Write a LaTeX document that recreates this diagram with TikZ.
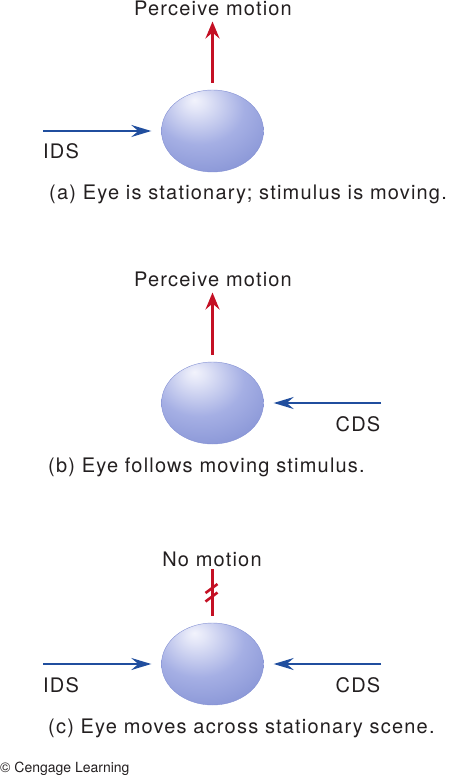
\documentclass[tikz,border=0pt]{standalone}
\usepackage{fontspec}
\setmainfont{TeX Gyre Heros}[LetterSpace=6]
\newfontfamily\creditfont{TeX Gyre Heros}
\usetikzlibrary{arrows.meta,shapes.geometric}
\definecolor{arrblue}{RGB}{32,78,158}
\definecolor{arrred}{RGB}{196,16,36}
\definecolor{ballhi}{RGB}{242,243,252}
\definecolor{ballmid}{RGB}{165,175,228}
\definecolor{balledge}{RGB}{116,131,204}
\definecolor{txt}{RGB}{35,31,32}
\pgfdeclareradialshading{eyeshade}{\pgfpoint{-9bp}{19bp}}{%
  color(0bp)=(ballhi);
  color(5bp)=(ballhi!80!ballmid);
  color(22bp)=(ballmid);
  color(46bp)=(balledge!85!ballmid);
  color(62bp)=(balledge);
  color(80bp)=(balledge)}
\begin{document}
\begin{tikzpicture}[x=1pt,y=-1pt,
  eye/.style={ellipse, minimum width=102pt, minimum height=82pt, inner sep=0pt, shading=eyeshade,
    draw=balledge!70!ballmid, line width=0.4pt},
  lbl/.style={font=\fontsize{20}{23}\selectfont, text=txt, inner sep=0pt},
  credit/.style={font=\creditfont\fontsize{14}{16}\selectfont, text=txt, inner sep=0pt},
  bluearrow/.style={draw=arrblue, line width=2.2pt, -{Stealth[length=20pt,width=12pt,inset=7pt]}},
  redarrow/.style={draw=arrred, line width=3pt, -{Stealth[length=17pt,width=14pt,inset=6pt]}},
  redline/.style={draw=arrred, line width=3pt},
  slash/.style={draw=arrred, line width=2.6pt}]
\useasboundingbox (0,0) rectangle (453,775);

% ---------- (a) ----------
\node[eye] (eyeA) at (212.5,131) {};
\node[lbl, anchor=base] (percA) at (213,16) {Perceive motion};
\coordinate (idsAstart) at (43,131);
\node[lbl, anchor=base west] (idsA) at (43,159) {IDS};
\draw[redarrow, shorten <=7pt, shorten >=5pt] (eyeA.north) -- (percA.south -| eyeA.north);
\draw[bluearrow, shorten >=10pt] (idsAstart) -- (eyeA.west);
\node[lbl, anchor=base west] (capA) at (49,200) {(a) Eye is stationary; stimulus is moving.};

% ---------- (b) ----------
\node[eye] (eyeB) at (212.5,403) {};
\node[lbl, anchor=base] (percB) at (213,287) {Perceive motion};
\coordinate (cdsBstart) at (381,403);
\node[lbl, anchor=base] (cdsB) at (358,431) {CDS};
\draw[redarrow, shorten <=7pt, shorten >=5pt] (eyeB.north) -- (percB.south -| eyeB.north);
\draw[bluearrow, shorten >=10pt] (cdsBstart) -- (eyeB.east);
\node[lbl, anchor=base west] (capB) at (48,472) {(b) Eye follows moving stimulus.};

% ---------- (c) ----------
\node[eye] (eyeC) at (212.5,664) {};
\node[lbl, anchor=base] (noC) at (212,566) {No motion};
\coordinate (idsCstart) at (43,664);
\coordinate (cdsCstart) at (381,664);
\node[lbl, anchor=base west] (idsC) at (43,692) {IDS};
\node[lbl, anchor=base] (cdsC) at (358,692) {CDS};
\draw[redline, shorten <=7pt, shorten >=2pt] (eyeC.north) -- (noC.south -| eyeC.north);
\draw[slash] (205.5,593) -- (217.5,584);
\draw[slash] (205.5,601.5) -- (217.5,592.5);
\draw[bluearrow, shorten >=10pt] (idsCstart) -- (eyeC.west);
\draw[bluearrow, shorten >=10pt] (cdsCstart) -- (eyeC.east);
\node[lbl, anchor=base west] (capC) at (48,733) {(c) Eye moves across stationary scene.};

% ---------- credit ----------
\node[credit, anchor=base west] (cred) at (0,772) {© Cengage Learning};
\end{tikzpicture}
\end{document}
